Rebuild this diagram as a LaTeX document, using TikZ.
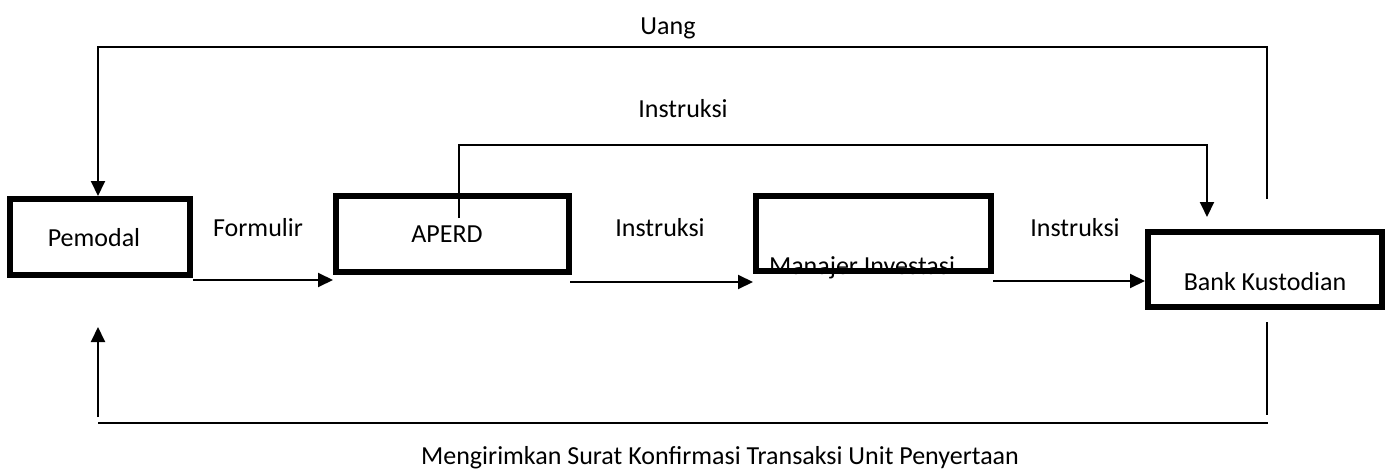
\documentclass[tikz,border=0pt]{standalone}
\usepackage{fontspec}
\setmainfont{Carlito}
\usetikzlibrary{arrows.meta}
\begin{document}
\begin{tikzpicture}[x=1pt,y=-1pt,
  box/.style={draw,line width=6pt,inner sep=0pt,outer sep=0pt},
  lbl/.style={inner sep=0pt,font=\fontsize{26}{31}\selectfont},
  conn/.style={line width=2pt},
  arr/.style={conn,-{Triangle[length=15pt,width=14pt]}}]
\useasboundingbox (0,0) rectangle (1392,476);
% boxes
\node[box,minimum width=180pt,minimum height=76pt] (pem) at (100,237) {};
\node[box,minimum width=233pt,minimum height=76pt] (aperd) at (452.5,234) {};
\node[box,minimum width=235pt,minimum height=75pt] (mi) at (873.5,233.5) {};
\node[box,minimum width=234pt,minimum height=75pt] (bank) at (1265,269.5) {};
% box texts
\node[lbl] (tpem) at (94,238) {Pemodal};
\node[lbl] (taperd) at (447,234) {APERD};
\node[lbl] (tmi) at (862,268) {Manajer Investasi};
\node[lbl] (tbank) at (1265,282) {Bank Kustodian};
% labels
\node[lbl] (luang) at (668,28) {Uang};
\node[lbl] (linstop) at (683,109) {Instruksi};
\node[lbl] (lform) at (258,228) {Formulir};
\node[lbl] (lins1) at (660,228) {Instruksi};
\node[lbl] (lins2) at (1075,228) {Instruksi};
\node[lbl] (lbottom) at (720,458) {Mengirimkan Surat Konfirmasi Transaksi Unit Penyertaan};
% coordinates
\coordinate (uangstart) at (1267,199);
\coordinate (insstart) at (459,218);
\coordinate (insend) at (1207,217);
\coordinate (botstart) at (1267,322);
\coordinate (botend) at (1267,415);
\coordinate (hl) at (98,423);
\coordinate (hr) at (1268,423);
\coordinate (upstart) at (98,417);
\coordinate (upend) at (98,327);
% connectors
\draw[arr] (uangstart) -- (1267,47) -- (98,47) -- (98,196);
\draw[arr] (insstart) -- (459,145) -- (1207,145) -- (insend);
\draw[arr] (193,280) -- (333,280);
\draw[arr] (570,282) -- (753,282);
\draw[arr] (993,281) -- (1145,281);
\draw[conn] (botstart) -- (botend);
\draw[conn] (hl) -- (hr);
\draw[arr] (upstart) -- (upend);
\end{tikzpicture}
\end{document}
